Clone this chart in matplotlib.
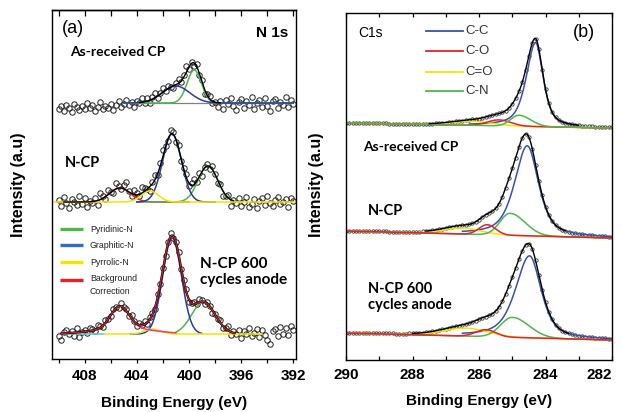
import matplotlib
matplotlib.use("Agg")
import matplotlib.pyplot as plt
import numpy as np

plt.rcParams.update({
    "font.family": ["Liberation Sans", "DejaVu Sans"],
    "axes.linewidth": 1.0,
})

ANNOT_FONT = ["Lato", "DejaVu Sans"]

# ---------------- panel (a): N 1s ----------------
# measured grid (eV), high -> low binding energy
E_A = np.round(np.arange(410.0, 391.99, -0.2), 2)

# vertical offset of each spectrum (arbitrary units)
AR_BASE, NCP_BASE, CYC_BASE = 256, 157, 25

# fitted peaks: (center eV, height, sigma eV)
AR_GRAPHITIC = (401.0, 17, 1.05)
AR_PYRIDINIC = (399.6, 33, 0.55)

NCP_BACKGROUND = (405.3, 14, 0.8)
NCP_PYRROLIC = (403.0, 11, 0.65)
NCP_GRAPHITIC = (401.3, 68, 0.72)
NCP_PYRIDINIC = (398.55, 36, 0.75)

CYC_BACKGROUND = (405.3, 22, 0.7)
CYC_BROAD = (405.0, 6, 2.2)
CYC_PYRROLIC = (402.8, 5, 0.6)
CYC_GRAPHITIC = (401.3, 96, 0.72)
CYC_PYRIDINIC = (398.9, 32, 0.9)

AR_RESID = [-6, -3, -8, -2, -5, -9, -1, -4, -7, -3, -6, 0, -5, -2, -8, -4, 1, -6, -3, -5,
            -1, -7, -2, 2, -4, -1,
            3, -2, 1, -4, 2, 0, 4, -1, 3, -3, 2, 5, -2, 1, 4, -1, 3, 0, -2, 2,
            4, -1, 2, 6, -2, 1, -3, 3, -1, 2, -4, 1, 3, -2, 0,
            -4, 2, -6, 3, -1, 5, -3, -7, 1, 4, -5, 2, -2, 6, -6, 0, 3, -4, 5, -3,
            -8, 2, 4, -5, 1, -2, 6, -4, 3, -1]
NCP_RESID = [2, -4, 5, -1, -6, 3, 0, -3, 6, -2, 4, -5, 1, -1, 3, -4, 7, 2, -2, 5,
             0, -3, 6, 2, -1, 4,
             8, 1, -3, 5, 2, -2, 6, 3, 0, -4, 2, 5, -1, 3, 6, 1, -2, 4, 2, -3,
             3, -2, 1, 4, -3, 2, 5, -1, 3, -4, 1, 2, -2, 4, 0,
             -3, 2, -5, -1, 3, -6, 1, -2, 4, -4, 0, 5, -5, -2, 3, -6, 1, 4, -3, 6,
             -1, -4, 2, 5, -2, 0, 3, -5, 4, 1]
CYC_RESID = [-2, -7, 1, 3, -1, 2, -3, 4, -5, 0, 2, -2, 3, 1, -1, 4, 2, -2, 3, 0,
             -1, 2, 1, -2, 3, 1,
             2, -1, 3, 1, -2, 2, 0, 3, -1, 2, 1, -2, 3, 0, 2, -1, 1, 3, -2, 1,
             2, -1, 1, 3, -2, 0, 2, -1, 3, 1, -2, 2, 0, -3, 1,
             0, 3, -2, 1, 5, -3, 2, -1, 4, -4, 3, 0, 6, -2, 1, 5, -3, 4, -1, -6,
             -10, 3, 5, -2, 7, 0, 6, -1, 8, 4]

A_LEGEND = ["Pyridinic-N", "Graphitic-N", "Pyrrolic-N", "Background\nCorrection"]

# ---------------- panel (b): C 1s ----------------
E_B = np.round(np.arange(290.0, 281.99, -0.1), 2)

# sloping baseline: (value at 290 eV, value at 282 eV)
TOP_BASE, MID_BASE, BOT_BASE = (237, 232), (129, 122), (27, 20)

# C-C: (center, height, hwhm high-BE side, hwhm low-BE side)
TOP_CC = (284.3, 84, 0.33, 0.27)
MID_CC = (284.55, 90, 0.45, 0.40)
BOT_CC = (284.48, 82, 0.50, 0.41)
# others: (center, height, sigma high-BE side, sigma low-BE side)
TOP_CN = (284.8, 11, 0.25, 0.35)
TOP_CO = (285.4, 6, 0.35, 0.35)
TOP_CEO = (286.2, 4, 0.6, 0.6)
MID_CN = (285.07, 22, 0.3, 0.45)
MID_CO = (285.75, 10, 0.25, 0.25)
MID_CEO = (286.5, 6, 0.55, 0.55)
BOT_CN = (285.0, 20, 0.35, 0.5)
BOT_CO = (285.8, 7, 0.3, 0.3)
BOT_CEO = (286.4, 8, 0.65, 0.65)

B_LEGEND = ["C-C", "C-O", "C=O", "C-N"]

GREEN = "#4db848"
BLUE_A = "#2c3c9c"
BLUE_LEG = "#2f6fc2"
YELLOW = "#f4e400"
RED = "#e8202a"
PINK = "#e0407a"
CYAN = "#55c8d8"
BLUE_B = "#3a4fb2"


def gauss(e, peak):
    c, h, s = peak
    return h * np.exp(-(e - c) ** 2 / (2 * s ** 2))


def agauss(e, peak):
    c, h, sl, sr = peak
    s = np.where(e > c, sl, sr)
    return h * np.exp(-(e - c) ** 2 / (2 * s ** 2))


def pvoigt(e, peak, eta=0.6):
    c, h, wl, wr = peak
    w = np.where(e > c, wl, wr)
    x = (e - c) / w
    return h * (eta / (1 + x ** 2) + (1 - eta) * 2 ** (-x ** 2))


def seg(e, lo, hi):
    return (e >= lo) & (e <= hi)


fig = plt.figure(figsize=(6.22, 4.12), dpi=100)
ax_a = fig.add_axes([0.0836, 0.1286, 0.3923, 0.8471])
ax_b = fig.add_axes([0.5563, 0.1262, 0.4277, 0.8422])

# fine grid for fitted curves
ef_a = np.linspace(410.5, 391.8, 700)
ef_b = np.linspace(290, 282, 700)

PT_STYLE = dict(mfc="none", mec="#222222", ms=3.9, mew=0.7, zorder=1, ls="none",
                marker="o")

# ---- (a) As-received CP
g = gauss(ef_a, AR_GRAPHITIC)
p = gauss(ef_a, AR_PYRIDINIC)
m = seg(ef_a, 392, 405)
ax_a.plot(ef_a[m], np.full(m.sum(), AR_BASE), color="gray", lw=0.9)
ax_a.plot(ef_a[m], AR_BASE + p[m], color=GREEN, lw=1.1)
ax_a.plot(ef_a[m], AR_BASE + g[m], color=BLUE_A, lw=1.1)
m = seg(ef_a, 397.6, 403.8)
ax_a.plot(ef_a[m], AR_BASE + g[m] + p[m], color="black", lw=1.0)
fit = gauss(E_A, AR_GRAPHITIC) + gauss(E_A, AR_PYRIDINIC)
ax_a.plot(E_A, AR_BASE + fit + np.array(AR_RESID), **PT_STYLE)

# ---- (a) N-CP
bg = gauss(ef_a, NCP_BACKGROUND)
pyr = gauss(ef_a, NCP_PYRROLIC)
g = gauss(ef_a, NCP_GRAPHITIC)
p = gauss(ef_a, NCP_PYRIDINIC)
m = seg(ef_a, 400, 410)
ax_a.plot(ef_a[m], NCP_BASE + bg[m], color=RED, lw=1.1)
m = seg(ef_a, 396, 404)
ax_a.plot(ef_a[m], NCP_BASE + p[m], color=GREEN, lw=1.1)
m = seg(ef_a, 398, 404)
ax_a.plot(ef_a[m], NCP_BASE + g[m], color=BLUE_A, lw=1.1)
ax_a.plot(ef_a, NCP_BASE + pyr, color=YELLOW, lw=1.1)
m = seg(ef_a, 396.6, 409.6)
ax_a.plot(ef_a[m], NCP_BASE + (bg + pyr + g + p)[m], color="black", lw=1.0)
fit = (gauss(E_A, NCP_BACKGROUND) + gauss(E_A, NCP_PYRROLIC)
       + gauss(E_A, NCP_GRAPHITIC) + gauss(E_A, NCP_PYRIDINIC))
ax_a.plot(E_A, NCP_BASE + fit + np.array(NCP_RESID), **PT_STYLE)

# ---- (a) N-CP 600 cycles anode
bg = gauss(ef_a, CYC_BACKGROUND) + gauss(ef_a, CYC_BROAD)
pyr = gauss(ef_a, CYC_PYRROLIC)
g = gauss(ef_a, CYC_GRAPHITIC)
p = gauss(ef_a, CYC_PYRIDINIC)
m = seg(ef_a, 406.5, 410)
ax_a.plot(ef_a[m], np.full(m.sum(), CYC_BASE), color=CYAN, lw=1.1)
m = seg(ef_a, 396.5, 401)
ax_a.plot(ef_a[m], CYC_BASE + p[m], color=GREEN, lw=1.1)
m = seg(ef_a, 399, 404.5)
ax_a.plot(ef_a[m], CYC_BASE + g[m], color=BLUE_A, lw=1.1)
m = seg(ef_a, 394.4, 406.5)
ax_a.plot(ef_a[m], CYC_BASE + pyr[m], color=YELLOW, lw=1.1)
m = seg(ef_a, 401, 410)
ax_a.plot(ef_a[m], CYC_BASE + bg[m], color=PINK, lw=1.1)
m = seg(ef_a, 396.5, 409.8)
ax_a.plot(ef_a[m], CYC_BASE + (bg + pyr + g + p)[m], color="black", lw=1.6)
ax_a.plot(ef_a[m], CYC_BASE + (bg + pyr + g + p)[m], color="#d42020", lw=0.9)
fit = (gauss(E_A, CYC_BACKGROUND) + gauss(E_A, CYC_BROAD) + gauss(E_A, CYC_PYRROLIC)
       + gauss(E_A, CYC_GRAPHITIC) + gauss(E_A, CYC_PYRIDINIC))
ax_a.plot(E_A, CYC_BASE + fit + np.array(CYC_RESID), **PT_STYLE)

# legend (a)
leg_y = [130, 114, 97, 79]
for lab, col, y in zip(A_LEGEND, [GREEN, BLUE_LEG, YELLOW, RED], leg_y):
    ax_a.plot([409.9, 408.15], [y, y], color=col, lw=2.4, solid_capstyle="butt")
    if "\n" in lab:
        ax_a.text(407.6, y + 6, lab, fontsize=6.3, va="top", linespacing=1.55,
                  family=["Liberation Sans Narrow", "Liberation Sans"], color="#222222")
    else:
        ax_a.text(407.6, y, lab, fontsize=6.3, va="center",
                  family=["Liberation Sans Narrow", "Liberation Sans"], color="#222222")

ax_a.text(409.75, 331, "(a)", fontsize=13, va="center", ha="left")
ax_a.text(392.4, 326, "N 1s", fontsize=11, fontweight="bold", va="center", ha="right")
ax_a.text(409.15, 307, "As-received CP", fontsize=10, fontweight="bold",
          va="center", family=ANNOT_FONT)
ax_a.text(409.5, 196, "N-CP", fontsize=10.5, fontweight="bold", va="center",
          family=ANNOT_FONT)
ax_a.text(399.15, 87, "N-CP 600\ncycles anode", fontsize=11, fontweight="bold",
          va="center", family=ANNOT_FONT, linespacing=1.1)

ax_a.set_xlim(410.5, 391.8)
ax_a.set_ylim(0, 349)
ax_a.set_yticks([])
ax_a.set_xticks([408, 404, 400, 396, 392])
ax_a.set_xticks([410, 406, 402, 398, 394], minor=True)
ax_a.tick_params(axis="x", which="both", direction="out", length=3, width=0.9,
                 labelsize=11, pad=4)
top_a = ax_a.secondary_xaxis("top")
top_a.set_xticks([410, 408, 406, 404, 402, 400, 398, 396, 394, 392])
top_a.tick_params(axis="x", direction="in", length=4, width=0.9, labeltop=False)

# ---- (b) C 1s spectra
for base, cc, cn, co, ceo, top_col, ranges in [
        (TOP_BASE, TOP_CC, TOP_CN, TOP_CO, TOP_CEO, GREEN,
         dict(cc=(283.0, 286.3), env=(283.0, 287.5))),
        (MID_BASE, MID_CC, MID_CN, MID_CO, MID_CEO, RED,
         dict(cc=(282.0, 286.5), env=(283.4, 287.6))),
        (BOT_BASE, BOT_CC, BOT_CN, BOT_CO, BOT_CEO, RED,
         dict(cc=(282.0, 286.5), env=(283.3, 288.0)))]:
    bl = base[1] + (base[0] - base[1]) * (ef_b - 282) / 8
    c1 = pvoigt(ef_b, cc)
    c2 = agauss(ef_b, co)
    c3 = agauss(ef_b, ceo)
    c4 = agauss(ef_b, cn)
    m = seg(ef_b, *ranges["cc"])
    ax_b.plot(ef_b[m], (bl + c1)[m], color=BLUE_B, lw=1.1)
    lines = [(c3, YELLOW), (c2, RED), (c4, GREEN)]
    if top_col == RED:
        lines = [(c3, YELLOW), (c4, GREEN), (c2, RED)]
    for comp, col in lines:
        ax_b.plot(ef_b, bl + comp, color=col, lw=1.1)
    m = seg(ef_b, *ranges["env"])
    ax_b.plot(ef_b[m], (bl + c1 + c2 + c3 + c4)[m], color="black", lw=1.0)
    blp = base[1] + (base[0] - base[1]) * (E_B - 282) / 8
    pts = blp + pvoigt(E_B, cc) + agauss(E_B, co) + agauss(E_B, ceo) + agauss(E_B, cn)
    ax_b.plot(E_B, pts, "o", mfc="none", mec="#333333", ms=2.4, mew=0.6, zorder=1)

leg_y = [329, 309, 288, 269]
for lab, col, y in zip(B_LEGEND, [BLUE_B, RED, YELLOW, GREEN], leg_y):
    ax_b.plot([287.6, 286.48], [y, y], color=col, lw=1.3)
    ax_b.text(286.42, y, lab, fontsize=9.5, va="center", color="#333333")

ax_b.text(289.64, 327, "C1s", fontsize=10, va="center")
ax_b.text(283.17, 328, "(b)", fontsize=13, va="center")
ax_b.text(289.5, 213, "As-received CP", fontsize=10, fontweight="bold",
          va="center", family=ANNOT_FONT)
ax_b.text(289.34, 149, "N-CP", fontsize=10.5, fontweight="bold", va="center",
          family=ANNOT_FONT)
ax_b.text(289.34, 63, "N-CP 600\ncycles anode", fontsize=10.5, fontweight="bold",
          va="center", family=ANNOT_FONT, linespacing=1.1)

ax_b.set_xlim(290, 282)
ax_b.set_ylim(0, 347)
ax_b.set_yticks([])
ax_b.set_xticks([290, 288, 286, 284, 282])
ax_b.set_xticks([289, 287, 285, 283], minor=True)
ax_b.tick_params(axis="x", which="both", direction="in", top=True, length=3,
                 width=0.9, labelsize=11, pad=6)

for ax in (ax_a, ax_b):
    for lab in ax.get_xticklabels():
        lab.set_fontweight("bold")
# last label of (b) sits against the figure edge
ax_b.get_xticklabels()[-1].set_horizontalalignment("right")
ax_b.get_xticklabels()[-1].set_x(281.75)

fig.text(0.029, 0.551, "Intensity (a.u)", rotation=90, fontsize=11.5,
         fontweight="bold", ha="center", va="center")
fig.text(0.509, 0.551, "Intensity (a.u)", rotation=90, fontsize=11.5,
         fontweight="bold", ha="center", va="center")
fig.text(0.28, 0.022, "Binding Energy (eV)", fontsize=11, fontweight="bold",
         ha="center", va="center")
fig.text(0.771, 0.027, "Binding Energy (eV)", fontsize=11, fontweight="bold",
         ha="center", va="center")

fig.savefig("out.png", dpi=100)
